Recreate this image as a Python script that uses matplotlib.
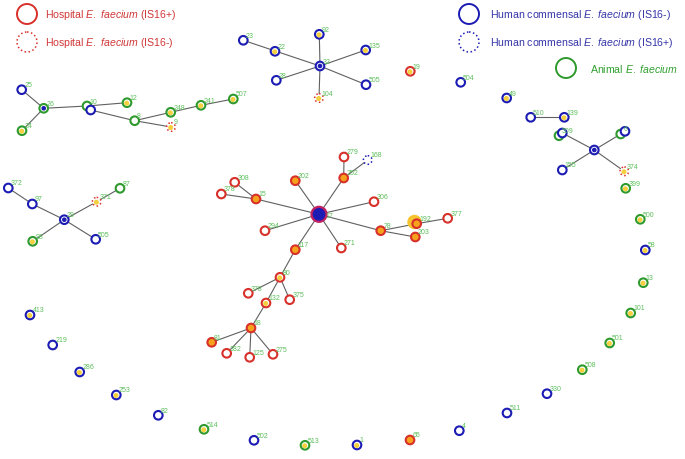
import matplotlib
matplotlib.use("Agg")
import matplotlib.pyplot as plt
from matplotlib.patches import Circle

plt.rcParams['font.family'] = ['Liberation Sans', 'DejaVu Sans']
plt.rcParams['mathtext.fontset'] = 'custom'
plt.rcParams['mathtext.rm'] = 'Liberation Sans'
plt.rcParams['mathtext.it'] = 'Liberation Sans:italic'

# node data (pixel layout of the minimum spanning tree)
# kind: H = hospital IS16+, h = hospital IS16-, C = human commensal IS16-, c = human commensal IS16+, A = animal
# fill: y = yellow dot, o = orange fill, b = blue dot, '' = none
node_keys = ['25', '26', '24', '10a', '10b', '12', '8', '9', '248', '241', '507',
             '32', '92', '23', '22', '28', '135', '505a', '104', '19r',
             '504', '49', '510', '139', '509a', '509b', 'c6', '6a', '6b', '155', '374', '399',
             '372', '97', '29', '98', '505b', '371', '87',
             '17', '202', '279', '168', '252', '308', '378a', '15', '306', '294', '78', '192', '377', '203', '271', '117',
             '80', '378b', '132', '375', '18', '81', '382', '125', '275',
             '500', '58', '13', '101', '501', '508', '330', '511', '4', '65', '1', '513', '502',
             '514', '82', '253', '286', '219', '413']
node_labels = ['25', '26', '24', '10', '', '12', '8', '9', '248', '241', '507',
               '32', '92', '23', '22', '28', '135', '505', '104', '19',
               '504', '49', '510', '139', '509', '', '', '6', '', '155', '374', '399',
               '372', '97', '29', '98', '505', '371', '87',
               '17', '202', '279', '168', '252', '308', '378', '15', '306', '294', '78', '192', '377', '203', '271', '117',
               '80', '378', '132', '375', '18', '81', '382', '125', '275',
               '500', '58', '13', '101', '501', '508', '330', '511', '4', '65', '1', '513', '502',
               '514', '82', '253', '286', '219', '413']
node_x = [21.7, 43.7, 22.0, 87.0, 90.7, 127.0, 134.7, 171.0, 170.7, 201.0, 233.3,
          320.0, 319.3, 243.3, 275.0, 276.3, 365.7, 366.0, 319.0, 410.3,
          460.7, 506.7, 530.7, 564.3, 559.0, 562.3, 594.3, 620.7, 625.0, 562.3, 624.3, 625.7,
          8.3, 32.3, 64.3, 32.7, 95.7, 96.7, 120.0,
          319.0, 295.3, 344.0, 367.7, 343.7, 234.7, 221.3, 256.0, 374.0, 265.0, 380.7, 416.7, 447.7, 415.3, 341.3, 295.3,
          280.0, 248.3, 266.0, 289.7, 251.0, 211.7, 226.7, 249.7, 273.0,
          640.3, 645.3, 643.3, 630.7, 609.7, 582.3, 547.0, 507.0, 459.3, 410.0, 357.0, 305.0, 254.0,
          204.0, 158.3, 116.3, 79.7, 52.7, 30.0]
node_y = [90.7, 109.3, 131.7, 107.0, 111.0, 103.7, 121.7, 128.0, 113.3, 106.3, 100.0,
          67.0, 35.3, 41.3, 52.3, 81.3, 51.0, 85.7, 99.0, 72.3,
          83.3, 99.0, 118.3, 118.3, 136.7, 134.0, 151.0, 135.0, 132.3, 171.0, 172.3, 189.3,
          189.0, 205.0, 220.7, 242.3, 240.3, 202.7, 189.3,
          215.3, 181.7, 158.0, 161.0, 179.0, 183.3, 195.0, 200.0, 202.7, 231.7, 231.7, 224.7, 219.3, 238.0, 249.0, 250.7,
          278.3, 294.3, 304.0, 300.7, 329.0, 343.3, 354.3, 358.3, 355.3,
          220.3, 251.0, 283.7, 314.0, 344.0, 370.7, 394.7, 414.0, 431.7, 441.0, 446.0, 446.3, 441.3,
          430.3, 416.3, 396.0, 373.0, 346.0, 316.0]
node_kind = ['C', 'A', 'A', 'A', 'C', 'A', 'A', 'h', 'A', 'A', 'A',
             'C', 'C', 'C', 'C', 'C', 'C', 'C', 'h', 'H',
             'C', 'C', 'C', 'C', 'A', 'C', 'C', 'A', 'C', 'C', 'h', 'A',
             'C', 'C', 'C', 'A', 'C', 'h', 'A',
             'X', 'H', 'H', 'c', 'H', 'H', 'H', 'H', 'H', 'H', 'H', 'H', 'H', 'H', 'H', 'H',
             'H', 'H', 'H', 'H', 'H', 'H', 'H', 'H', 'H',
             'A', 'C', 'A', 'A', 'A', 'A', 'C', 'C', 'C', 'H', 'C', 'A', 'C',
             'A', 'C', 'C', 'C', 'C', 'C']
node_fill = ['', 'b', 'y', '', '', 'y', '', 'y', 'y', 'y', 'y',
             'b', 'y', '', 'y', '', 'y', '', 'y', 'y',
             '', 'y', '', 'y', '', '', 'b', '', '', '', 'y', 'y',
             '', '', 'b', 'y', '', 'y', '',
             '', 'o', '', '', 'o', '', '', 'o', '', '', 'o', 'o', '', 'o', '', 'o',
             'y', '', 'y', '', 'o', 'o', '', '', '',
             'y', 'y', 'y', 'y', 'y', 'y', '', '', '', 'o', 'y', 'y', '',
             'y', '', 'y', 'y', '', 'y']

edges = [('25', '26'), ('24', '26'), ('26', '10a'), ('10a', '12'), ('10b', '8'), ('8', '9'),
         ('8', '248'), ('248', '241'), ('241', '507'),
         ('32', '92'), ('32', '23'), ('32', '28'), ('32', '135'), ('32', '505a'), ('32', '104'),
         ('510', '139'), ('c6', '509b'), ('c6', '6a'), ('c6', '155'), ('c6', '374'),
         ('372', '97'), ('97', '29'), ('29', '98'), ('29', '505b'), ('29', '371'), ('371', '87'),
         ('17', '202'), ('17', '252'), ('252', '279'), ('252', '168'), ('17', '15'), ('15', '308'),
         ('15', '378a'), ('17', '306'), ('17', '294'), ('17', '78'), ('78', '192'), ('192', '377'),
         ('78', '203'), ('17', '271'), ('17', '117'),
         ('117', '80'), ('80', '378b'), ('80', '375'), ('80', '132'), ('132', '18'),
         ('18', '81'), ('18', '382'), ('18', '125'), ('18', '275')]

legend_text = [r'Hospital $\it{E.\ faecium}$ (IS$\it{16}$+)',
               r'Hospital $\it{E.\ faecium}$ (IS$\it{16}$-)',
               r'Human commensal $\it{E.\ faecium}$ (IS$\it{16}$-)',
               r'Human commensal $\it{E.\ faecium}$ (IS$\it{16}$+)',
               r'Animal $\it{E.\ faecium}$']

RED = '#d8302a'
BLUE = '#1c1cb4'
GREEN = '#2e9a2e'
LBL = '#5cbf5c'
ORANGE = '#f6a21c'
YELLOW = '#f4d03f'

styles = {'H': (RED, '-'), 'h': (RED, ':'), 'C': (BLUE, '-'), 'c': (BLUE, ':'), 'A': (GREEN, '-'),
          'X': (RED, '-')}

fig = plt.figure(figsize=(6.85, 4.6), dpi=100)
ax = fig.add_axes([0, 0, 1, 1])
ax.set_xlim(0, 685)
ax.set_ylim(460, 0)
ax.axis('off')

pos = {k: (x, y) for k, x, y in zip(node_keys, node_x, node_y)}

for a, b in edges:
    ax.plot([pos[a][0], pos[b][0]], [pos[a][1], pos[b][1]], color='#606060', lw=0.8, zorder=1)

# halo behind ST192
ax.add_patch(Circle((414.5, 223.0), 6.5, color='#f7c430', zorder=2))

for k, lab, x, y, kind, fill in zip(node_keys, node_labels, node_x, node_y, node_kind, node_fill):
    col, ls = styles[kind]
    if kind == 'X':
        ax.add_patch(Circle((x, y), 7.5, facecolor=BLUE, edgecolor='#c02060', lw=1.6, zorder=3))
        ax.text(x + 6, y + 1, lab, color=LBL, fontsize=5, va='center', zorder=5)
        continue
    face = ORANGE if fill == 'o' else 'white'
    ax.add_patch(Circle((x, y), 4.3, facecolor=face, edgecolor=col, lw=1.5 if ls == '-' else 1.1,
                        linestyle=ls, zorder=3))
    if fill == 'y':
        ax.add_patch(Circle((x - 0.3, y + 0.5), 1.8, color=YELLOW, zorder=4))
    elif fill == 'b':
        ax.add_patch(Circle((x, y), 1.6, color=BLUE, zorder=4))
    if lab:
        ax.text(x + 2.5, y - 1.5, lab, color=LBL, fontsize=5, va='bottom', ha='left', zorder=5)

# legend
leg_x = [27, 27, 469, 469, 566]
leg_y = [15, 43, 15, 43, 69]
leg_kind = ['H', 'h', 'C', 'c', 'A']
leg_tx = [45, 45, 490, 490, 590]
leg_col = ['#d03838', '#d03838', '#3535a8', '#3535a8', '#30a030']
for x, y, kind, tx, tc, t in zip(leg_x, leg_y, leg_kind, leg_tx, leg_col, legend_text):
    col, ls = styles[kind]
    ax.add_patch(Circle((x, y), 10, facecolor='none', edgecolor=col, lw=1.4 if ls == '-' else 1.1,
                        linestyle=ls))
    ax.text(tx, y, t, color=tc, fontsize=7.6, va='center', ha='left')

fig.savefig('out.png', dpi=100)
